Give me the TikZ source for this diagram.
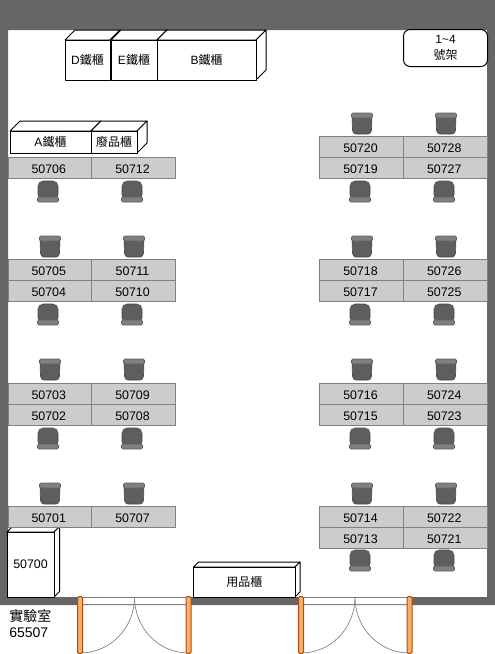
\documentclass[tikz,border=0pt]{standalone}
\usepackage{fontspec}
\setmainfont{Liberation Sans}
\newfontfamily\cjk{Noto Sans CJK TC}
\usepackage{tikz}
\definecolor{wallgray}{HTML}{666666}
\definecolor{deskgray}{HTML}{CCCCCC}
\definecolor{lineagray}{HTML}{808080}
\definecolor{seatgray}{HTML}{5E5E5E}
\definecolor{jamborange}{HTML}{F4B266}
\definecolor{jambedge}{HTML}{B5490B}
\tikzset{
    every node/.style={font=\fontsize{9pt}{12pt}\selectfont, inner sep=0pt, align=center},
    wall/.style={fill=wallgray, even odd rule},
    desk/.style={draw=lineagray, fill=deskgray, line width=0.75pt, nodes={font=\fontsize{9.3pt}{11pt}\selectfont, xshift=-0.75pt, yshift=-0.75pt}},
    cabinet/.style={draw=black, fill=white, line width=0.75pt, line join=round},
    seat/.style={draw=seatgray!80!black, fill=seatgray, line width=0.5pt},
    band/.style={draw=seatgray, fill=lineagray, line width=0.5pt, rounded corners=1pt},
    doorline/.style={draw=lineagray, line width=0.5pt},
    jamb/.style={draw=jambedge, fill=jamborange, line width=0.75pt, rounded corners=1pt}
}
% x1, y1, x2, y2 of the front face, depth, name, label
\newcommand{\cabinetbox}[7]{
    \draw[cabinet] (#2,#3) -- ++(#6,-#6) -- (#4+#6,#3-#6) -- (#4,#3) -- cycle;
    \draw[cabinet] (#4,#3) -- (#4+#6,#3-#6) -- (#4+#6,#5-#6) -- (#4,#5) -- cycle;
    \draw[cabinet] (#2,#3) rectangle node(#1){#7} (#4,#5);
}
\newcommand{\chairup}[2]{
    \draw[seat] (#1-10,#2+2) -- (#1+10,#2+2) -- (#1+9.5,#2+17) to[out=-90,in=0] (#1+6,#2+21) -- (#1-6,#2+21) to[out=180,in=-90] (#1-9.5,#2+17) -- cycle;
    \draw[band] (#1-10.5,#2) rectangle (#1+10.5,#2+5);
}
\newcommand{\chairdown}[2]{
    \draw[seat, rounded corners=4pt] (#1-10,#2+19) -- (#1-10,#2) -- (#1+10,#2) -- (#1+10,#2+19) -- cycle;
    \draw[band] (#1-10.5,#2+16) rectangle (#1+10.5,#2+21);
}
\newcommand{\doorleaves}[3]{
    \draw[doorline, fill=white] (#1,597) rectangle (#3,604);
    \draw[doorline] (#2,597) .. controls (#2,628) and (#2-24,653) .. (#1,653);
    \draw[doorline] (#2,597) .. controls (#2,628) and (#2+24,653) .. (#3,653);
}

\begin{document}
\begin{tikzpicture}[x=0.75pt, y=-0.75pt]
    \useasboundingbox (0,0) rectangle (495,654);
    \fill[wall] (0,0) rectangle (495,605) (8,30) rectangle (487,597);

    % cabinets
    \cabinetbox{cabD}{65}{40}{110}{80}{10}{D{\cjk 鐵櫃}}
    \cabinetbox{cabE}{111}{40}{157}{80}{10}{E{\cjk 鐵櫃}}
    \cabinetbox{cabB}{157}{40}{256}{80}{10}{B{\cjk 鐵櫃}}
    \cabinetbox{cabA}{10}{131}{91}{153}{10}{\raisebox{-1pt}{A{\cjk 鐵櫃}}}
    \cabinetbox{cabW}{91}{131}{137}{153}{10}{\raisebox{-1pt}{\cjk 廢品櫃}}
    \cabinetbox{cabPC}{7}{532}{54}{597}{5.5}{\fontsize{9.3pt}{11pt}\selectfont 50700}
    \cabinetbox{cabS}{193.5}{567}{295}{597}{5}{\raisebox{-1pt}{\cjk 用品櫃}}
    \draw[cabinet, rounded corners=5pt] (403.5,29.5) rectangle node(rack){1\textasciitilde 4\\{\cjk 號架}} (487.5,66.5);

    % desks
    \draw[desk] (8,157) rectangle node(d50706){50706} (91.5,178.5);
    \draw[desk] (91.5,157) rectangle node(d50712){50712} (175.5,178.5);
    \draw[desk] (8,259.5) rectangle node(d50705){50705} (91.5,280.5);
    \draw[desk] (91.5,259.5) rectangle node(d50711){50711} (175.5,280.5);
    \draw[desk] (8,280.5) rectangle node(d50704){50704} (91.5,301.5);
    \draw[desk] (91.5,280.5) rectangle node(d50710){50710} (175.5,301.5);
    \draw[desk] (8,383.5) rectangle node(d50703){50703} (91.5,404.5);
    \draw[desk] (91.5,383.5) rectangle node(d50709){50709} (175.5,404.5);
    \draw[desk] (8,404.5) rectangle node(d50702){50702} (91.5,425.5);
    \draw[desk] (91.5,404.5) rectangle node(d50708){50708} (175.5,425.5);
    \draw[desk] (8,506) rectangle node(d50701){50701} (91.5,527.5);
    \draw[desk] (91.5,506) rectangle node(d50707){50707} (175.5,527.5);

    \draw[desk] (319.5,136.5) rectangle node(d50720){50720} (403.5,157.5);
    \draw[desk] (403.5,136.5) rectangle node(d50728){50728} (487,157.5);
    \draw[desk] (319.5,157.5) rectangle node(d50719){50719} (403.5,178.5);
    \draw[desk] (403.5,157.5) rectangle node(d50727){50727} (487,178.5);
    \draw[desk] (319.5,259.5) rectangle node(d50718){50718} (403.5,280.5);
    \draw[desk] (403.5,259.5) rectangle node(d50726){50726} (487,280.5);
    \draw[desk] (319.5,280.5) rectangle node(d50717){50717} (403.5,301.5);
    \draw[desk] (403.5,280.5) rectangle node(d50725){50725} (487,301.5);
    \draw[desk] (319.5,383.5) rectangle node(d50716){50716} (403.5,404.5);
    \draw[desk] (403.5,383.5) rectangle node(d50724){50724} (487,404.5);
    \draw[desk] (319.5,404.5) rectangle node(d50715){50715} (403.5,425.5);
    \draw[desk] (403.5,404.5) rectangle node(d50723){50723} (487,425.5);
    \draw[desk] (319.5,506.5) rectangle node(d50714){50714} (403.5,527.5);
    \draw[desk] (403.5,506.5) rectangle node(d50722){50722} (487,527.5);
    \draw[desk] (319.5,527.5) rectangle node(d50713){50713} (403.5,548.5);
    \draw[desk] (403.5,527.5) rectangle node(d50721){50721} (487,548.5);

    % chairs
    \foreach \y in {236,359,483} {
        \chairup{50}{\y}
        \chairup{134}{\y}
    }
    \foreach \y in {181,304,428} {
        \chairdown{48}{\y}
        \chairdown{132}{\y}
    }
    \foreach \y in {113,236,359,483} {
        \chairup{362}{\y}
        \chairup{446}{\y}
    }
    \foreach \y in {181,304,428,550} {
        \chairdown{360}{\y}
        \chairdown{444}{\y}
    }

    % doors
    \doorleaves{80}{134.5}{188.5}
    \doorleaves{301}{355}{409.5}
    \foreach \x in {80,188.5,301,409.5} {
        \draw[jamb] (\x-2.5,596.5) rectangle (\x+2.5,653.5);
    }

    \node[anchor=west, align=left, font=\fontsize{10.5pt}{12pt}\selectfont] (room) at (9,624) {{\cjk 實驗室}\\65507};
\end{tikzpicture}
\end{document}
